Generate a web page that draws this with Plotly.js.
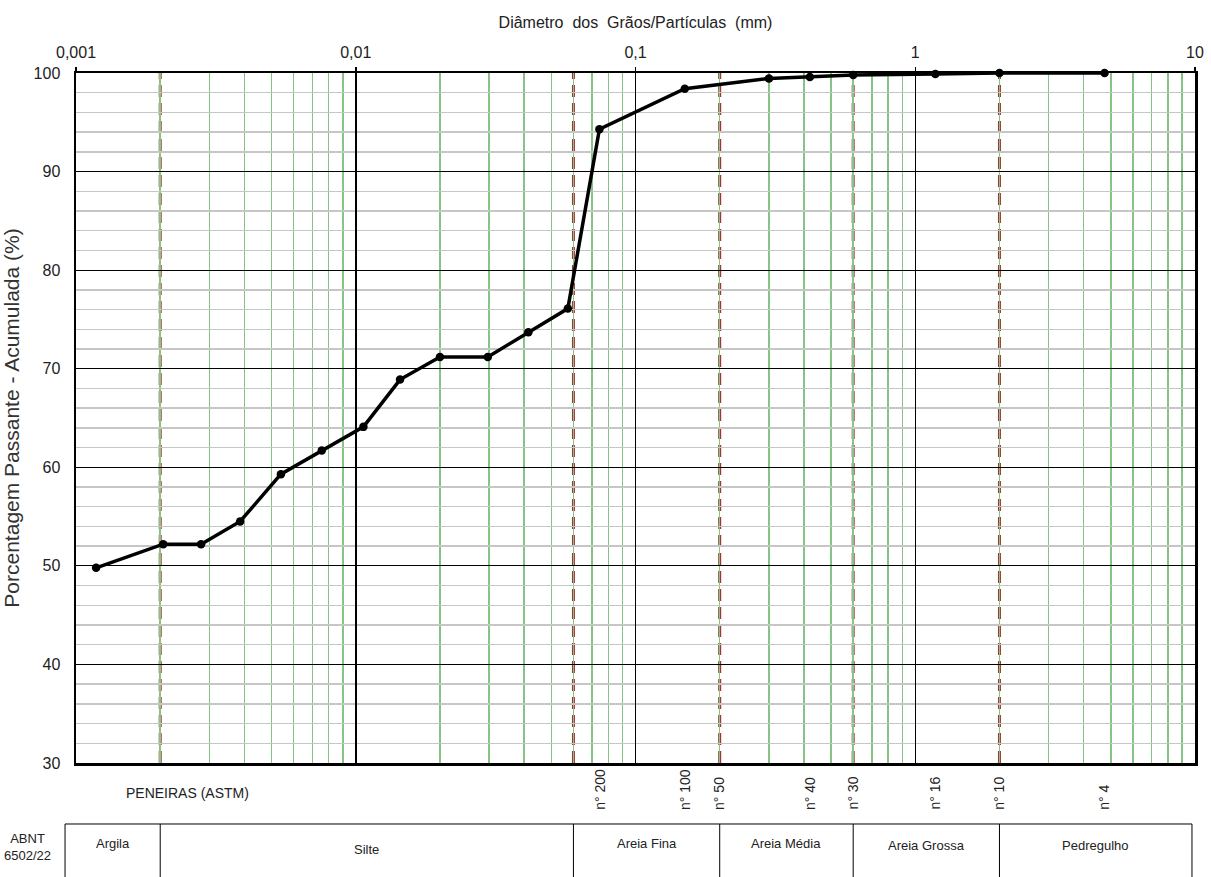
<!DOCTYPE html>
<html>
<head>
<meta charset="utf-8">
<script src="https://cdn.plot.ly/plotly-3.0.1.min.js"></script>
<style>html,body{margin:0;padding:0;background:#fff;}#chart{width:1211px;height:877px;}</style>
</head>
<body>
<div id="chart"></div>
<script>
// Grain-size curve (diameter in mm, % passing)
const diameters = [0.00118, 0.00205, 0.0028, 0.00386, 0.0054, 0.00756, 0.01065, 0.0144, 0.0200, 0.02965, 0.0414, 0.0573, 0.0743, 0.15, 0.3, 0.42, 0.6, 1.18, 2.0, 4.75];
const passing   = [49.8, 52.2, 52.2, 54.5, 59.3, 61.7, 64.1, 68.9, 71.2, 71.2, 73.7, 76.1, 94.3, 98.4, 99.45, 99.6, 99.8, 99.9, 100, 100];

// x-axis ticks
const xTickVals = [0.001, 0.01, 0.1, 1, 10];
const xTickText = ['0,001', '0,01', '0,1', '1', '10'];

// ABNT 6502/22 class boundaries (mm)
const boundaries = [0.002, 0.06, 0.2, 0.6, 2];
const classNames = ['Argila', 'Silte', 'Areia Fina', 'Areia Média', 'Areia Grossa', 'Pedregulho'];

// ASTM sieve labels and their positions (mm)
const sieveLabels = ['n° 200', 'n° 100', 'n° 50', 'n° 40', 'n° 30', 'n° 16', 'n° 10', 'n° 4'];
const sieveLabelPos = [0.075, 0.15, 0.2, 0.42, 0.6, 1.18, 2.0, 4.75];

const FONT = 'Liberation Sans, Arial, sans-serif';
const GREEN = '#86c486';
const RED = '#9c3a35';
const TXT = '#222';

const shapes = [];
// dashed class-boundary lines
boundaries.forEach(b => shapes.push({
  type: 'line', xref: 'x', yref: 'paper', x0: b, x1: b, y0: 0, y1: 1,
  layer: 'between', line: {color: RED, width: 3, dash: '12px,6px'}
}));
// bottom classification table
const tTop = -0.0884, tBot = -0.20, tLeft = -0.0098, tRight = 0.9973;
shapes.push({type: 'line', xref: 'paper', yref: 'paper', x0: tLeft, x1: tRight, y0: tTop, y1: tTop, line: {color: '#000', width: 1}});
shapes.push({type: 'line', xref: 'paper', yref: 'paper', x0: tLeft, x1: tLeft, y0: tTop, y1: tBot, line: {color: '#000', width: 1}});
shapes.push({type: 'line', xref: 'paper', yref: 'paper', x0: tRight, x1: tRight, y0: tTop, y1: tBot, line: {color: '#000', width: 1}});
boundaries.forEach(b => shapes.push({
  type: 'line', xref: 'x', yref: 'paper', x0: b, x1: b, y0: tTop, y1: tBot,
  line: {color: '#000', width: 1}
}));

const annotations = [];
// table cell labels, centred between edges (log space)
const xmin = -3, xmax = 1;
const edgeLog = [xmin + tLeft * (xmax - xmin)].concat(boundaries.map(Math.log10), [xmin + tRight * (xmax - xmin)]);
const classY = [-0.116, -0.126, -0.116, -0.116, -0.12, -0.12];
classNames.forEach((n, i) => annotations.push({
  xref: 'x', yref: 'paper', x: (edgeLog[i] + edgeLog[i + 1]) / 2, y: classY[i],
  xanchor: 'center', yanchor: 'middle',
  text: n, showarrow: false, font: {family: FONT, size: 13, color: TXT}
}));
annotations.push({
  xref: 'paper', yref: 'paper', x: -0.043, y: -0.122, xanchor: 'center', yanchor: 'middle',
  text: 'ABNT<br>6502/22', showarrow: false, font: {family: FONT, size: 13, color: TXT}, align: 'center'
});
annotations.push({
  xref: 'paper', yref: 'paper', x: 0.1, y: -0.0435, xanchor: 'center', yanchor: 'middle',
  text: 'PENEIRAS (ASTM)', showarrow: false, font: {family: FONT, size: 14, color: TXT}
});
sieveLabels.forEach((s, i) => annotations.push({
  xref: 'x', yref: 'paper', x: Math.log10(sieveLabelPos[i]), y: -0.0706,
  xanchor: 'center', yanchor: 'bottom',
  text: s, textangle: -90, showarrow: false, font: {family: FONT, size: 14, color: TXT}
}));

const trace = {
  x: diameters, y: passing, type: 'scatter', mode: 'lines+markers',
  line: {color: '#000', width: 3.5}, marker: {color: '#000', size: 8.5},
  cliponaxis: false, hoverinfo: 'x+y'
};

const layout = {
  width: 1211, height: 877,
  margin: {l: 76, r: 16, t: 73, b: 114, pad: 0},
  paper_bgcolor: '#fff', plot_bgcolor: '#fff',
  showlegend: false,
  font: {family: FONT, color: TXT},
  xaxis: {
    type: 'log', range: [xmin, xmax], side: 'top',
    tickvals: xTickVals, ticktext: xTickText, tickfont: {size: 16, color: TXT},
    ticks: 'outside', ticklen: 4, tickcolor: '#000', tickwidth: 1.5, ticklabelstandoff: 2,
    showgrid: true, gridcolor: '#000', gridwidth: 1.5,
    minor: {dtick: 'D1', showgrid: true, gridcolor: GREEN, gridwidth: 1.5, ticks: ''},
    showline: true, mirror: true, linecolor: '#000', linewidth: 2.5, zeroline: false,
    title: {text: 'Diâmetro\u00a0 dos\u00a0 Grãos/Partículas\u00a0 (mm)', font: {size: 16, color: TXT}, standoff: 12}
  },
  yaxis: {
    range: [30, 100], tick0: 30, dtick: 10, tickfont: {size: 16, color: TXT},
    ticks: '', ticklabelstandoff: 10,
    showgrid: true, gridcolor: '#000', gridwidth: 1.2,
    minor: {dtick: 2, showgrid: true, gridcolor: '#c6c6c6', gridwidth: 1.5, ticks: ''},
    showline: true, mirror: true, linecolor: '#000', linewidth: 2.5, zeroline: false,
    title: {text: 'Porcentagem Passante - Acumulada (%)', font: {size: 21, color: '#333'}, standoff: 8}
  },
  shapes: shapes,
  annotations: annotations
};

Plotly.newPlot('chart', [trace], layout, {displayModeBar: false, staticPlot: true});
</script>
</body>
</html>
